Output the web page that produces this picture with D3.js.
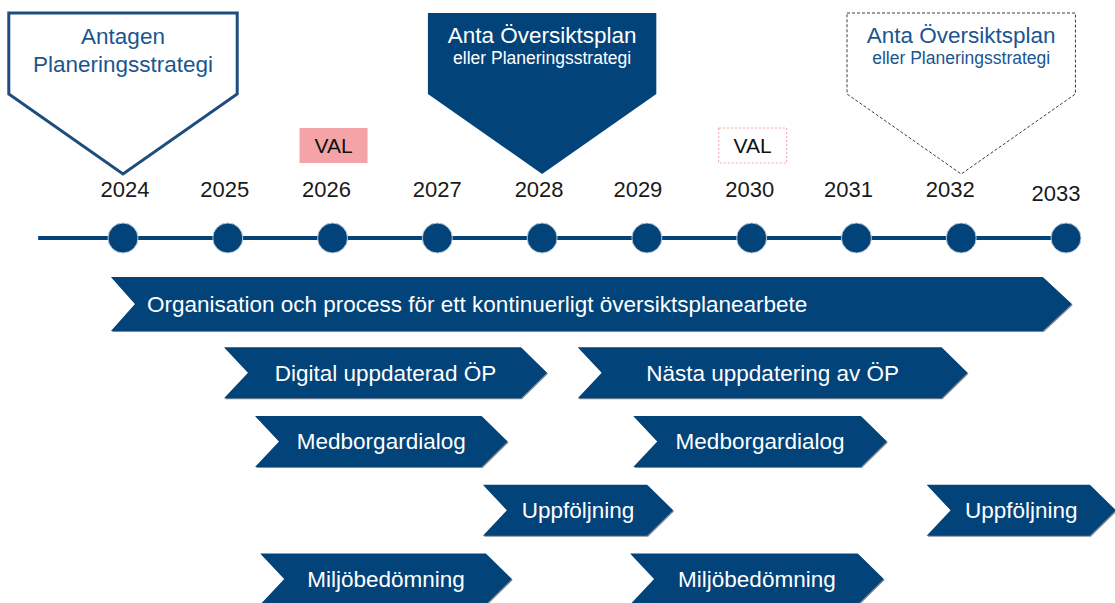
<!DOCTYPE html>
<html>
<head>
<meta charset="utf-8">
<script src="https://cdn.jsdelivr.net/npm/d3@7"></script>
<style>
  body { margin: 0; background: #fff; }
  svg { display: block; font-family: Arial, "Liberation Sans", sans-serif; }
</style>
</head>
<body>
<svg width="1115" height="603"></svg>
<script>
// timeline years and the small nudges the labels have in the slide
const years = [2024, 2025, 2026, 2027, 2028, 2029, 2030, 2031, 2032, 2033];
const yearLabelDx = [2, -3, -6, 0, -3, -9, -2, -8, -11, -10];
const yearLabelDy = [0, 0, 0, 0, 0, 0, 0, 0, 0, 4];
const lineStart = 2023.19;

// election years
const valYears = [2026, 2030];
const valStyles = ["filled", "dashed"];

// decision callouts above the line
const calloutYears = [2024, 2028, 2032];
const calloutTitles = ["Antagen", "Anta Översiktsplan", "Anta Översiktsplan"];
const calloutSubs = ["Planeringsstrategi", "eller Planeringsstrategi", "eller Planeringsstrategi"];
const calloutStyles = ["outline", "filled", "dashed"];

// activity chevrons (start year, end year, row)
const taskNames = [
  "Organisation och process för ett kontinuerligt översiktsplanearbete",
  "Digital uppdaterad ÖP", "Nästa uppdatering av ÖP",
  "Medborgardialog", "Medborgardialog",
  "Uppföljning", "Uppföljning",
  "Miljöbedömning", "Miljöbedömning"
];
const taskStart = [2023.885, 2024.964, 2028.34, 2025.26, 2028.87, 2027.435, 2031.67, 2025.31, 2028.84];
const taskEnd   = [2033.055, 2028.046, 2032.06, 2027.67, 2031.29, 2029.25, 2033.475, 2027.71, 2031.26];
const taskRow   = [0, 1, 1, 2, 2, 3, 3, 4, 4];

const navy = "#02437a";
const svg = d3.select("svg");

let x = d3.scaleLinear().domain([2024, 2033]).range([123, 1066]);
let rowY = d3.scalePoint().domain([0, 1, 2, 3, 4]).range([304, 579]);
const lineY = 238;

// ---- callouts
const cTop = 13, cShoulder = 94, cTip = 174, cHalf = 1.09;
const callG = svg.append("g");
calloutYears.forEach(function(yr, i) {
  const l = x(yr - cHalf), r = x(yr + cHalf), c = x(yr);
  const pts = [[l, cTop], [r, cTop], [r, cShoulder], [c, cTip], [l, cShoulder]];
  const st = calloutStyles[i];
  callG.append("polygon")
    .attr("points", pts.map(p => p.join(",")).join(" "))
    .attr("fill", st == "filled" ? navy : "#fff")
    .attr("stroke", st == "filled" ? "none" : (st == "dashed" ? "#3a3a3a" : "#1c4d7e"))
    .attr("stroke-width", st == "outline" ? 3 : 1)
    .attr("stroke-dasharray", st == "dashed" ? "3,2" : null);
  const col = st == "filled" ? "#fff" : "#1b5590";
  callG.append("text").attr("x", c).attr("y", st == "outline" ? 44 : 43)
    .attr("text-anchor", "middle").attr("font-size", 22.5).attr("fill", col)
    .text(calloutTitles[i]);
  callG.append("text").attr("x", c).attr("y", st == "outline" ? 72 : 64)
    .attr("text-anchor", "middle").attr("font-size", st == "outline" ? 22.5 : 17.5).attr("fill", col)
    .text(calloutSubs[i]);
});

// ---- VAL boxes
valYears.forEach(function(yr, i) {
  const w = 68, h = 35;
  svg.append("rect")
    .attr("x", x(yr) + 1 - w / 2).attr("y", 128).attr("width", w).attr("height", h)
    .attr("fill", valStyles[i] == "filled" ? "#f4a4a7" : "#fff")
    .attr("stroke", valStyles[i] == "filled" ? "none" : "#f0a2a6")
    .attr("stroke-dasharray", "2,2");
  svg.append("text").attr("x", x(yr) + 1).attr("y", 153)
    .attr("text-anchor", "middle").attr("font-size", 21).attr("fill", "#111")
    .text("VAL");
});

// ---- year labels
svg.append("g").selectAll("text").data(years).enter().append("text")
  .attr("x", (d, i) => x(d) + yearLabelDx[i])
  .attr("y", (d, i) => 197 + yearLabelDy[i])
  .attr("text-anchor", "middle")
  .attr("font-size", 22)
  .attr("fill", "#1a1a1a")
  .text(d => d);

// ---- timeline
svg.append("line")
  .attr("x1", x(lineStart)).attr("x2", x(2033))
  .attr("y1", lineY).attr("y2", lineY)
  .attr("stroke", navy).attr("stroke-width", 4);

svg.append("g").selectAll("circle").data(years).enter().append("circle")
  .attr("cx", d => x(d))
  .attr("cy", lineY)
  .attr("r", 15)
  .attr("fill", navy)
  .attr("stroke", "#b9c8d8")
  .attr("stroke-width", 1);

// ---- chevrons
function chevron(l, r, cy, h, notch, point) {
  const t = cy - h / 2, b = cy + h / 2;
  return [[l, t], [r - point, t], [r, cy], [r - point, b], [l, b], [l + notch, cy]]
    .map(p => p.join(",")).join(" ");
}

const tasks = taskNames.map((n, i) => ({ name: n, s: taskStart[i], e: taskEnd[i], row: taskRow[i] }));
const tg = svg.append("g").selectAll("g").data(tasks).enter().append("g");

tg.each(function(d, i) {
  const g = d3.select(this);
  const h = i == 0 ? 54 : 51;
  const point = i == 0 ? 29 : 26;
  const notch = 24;
  const l = x(d.s), r = x(d.e), cy = rowY(d.row);
  g.append("polygon")
    .attr("points", chevron(l + 1, r + 1, cy + 1, h, notch, point))
    .attr("fill", "#1d2633").attr("opacity", 0.55);
  g.append("polygon")
    .attr("points", chevron(l, r, cy, h, notch, point))
    .attr("fill", navy);
  g.append("text")
    .attr("x", i == 0 ? l + notch + 12 : (l + r) / 2)
    .attr("y", cy)
    .attr("dy", "0.35em")
    .attr("text-anchor", i == 0 ? "start" : "middle")
    .attr("font-size", 22.5)
    .attr("fill", "#fff")
    .text(d.name);
});
</script>
</body>
</html>
